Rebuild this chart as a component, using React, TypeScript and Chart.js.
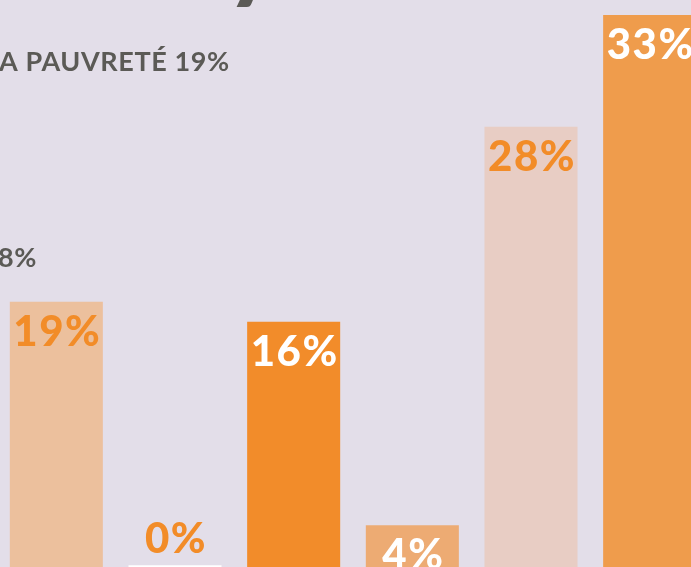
import React, { useEffect, useRef } from "react";
import { Chart, registerables } from "chart.js";

Chart.register(...registerables);

// Categories (names not visible in the crop)
const categories = ["A", "B", "C", "D", "E", "F"];
// Percent labels printed on the bars
const percentLabels = [19, 0, 16, 4, 28, 33];
// Bar heights as drawn in the infographic (not to scale with the labels), in axis units
const barHeights = [15.9, 0.1, 14.7, 2.5, 26.4, 33.1];
const barColors = ["#ecc09d", "#ffffff", "#f28c2a", "#edab73", "#e8cdc4", "#ef9c4c"];
const labelColors = ["#f28c28", "#f28c28", "#ffffff", "#ffffff", "#f28c28", "#ffffff"];
// Annotation texts (cropped in the reference)
const noteTop = "A PAUVRETÉ 19%";
const noteMid = "8%";
const titleFragment = "y";

const BG = "#e3dee9";
const GRAY = "#5b5a56";

export default function App() {
  const ref = useRef<HTMLCanvasElement | null>(null);

  useEffect(() => {
    document.body.style.margin = "0";
    const canvas = ref.current;
    if (!canvas) return;

    const labelPlugin = {
      id: "labels",
      afterDatasetsDraw(chart: any) {
        const ctx = chart.ctx;
        const meta = chart.getDatasetMeta(0);
        ctx.save();
        ctx.font = "900 42px Lato";
        (ctx as any).letterSpacing = "1.5px";
        ctx.textAlign = "center";
        ctx.textBaseline = "alphabetic";
        meta.data.forEach((bar: any, i: number) => {
          const h = bar.base - bar.y;
          ctx.fillStyle = labelColors[i];
          const txt = percentLabels[i] + "%";
          if (h < 20) {
            ctx.fillText(txt, bar.x + 1, bar.y - 12);
          } else {
            ctx.fillText(txt, bar.x + 1, bar.y + 44);
          }
        });
        // annotations
        ctx.fillStyle = GRAY;
        ctx.textAlign = "left";
        (ctx as any).letterSpacing = "0.6px";
        ctx.font = "bold 27px Lato";
        ctx.fillText(noteTop, 2, 71);
        ctx.fillText(noteMid, 1, 267);
        (ctx as any).letterSpacing = "0px";
        ctx.font = "bold 110px Lato";
        ctx.fillText(titleFragment, 227, -11);
        ctx.restore();
      },
    };

    const chart = new Chart(canvas, {
      type: "bar",
      data: {
        labels: categories,
        datasets: [
          {
            data: barHeights,
            backgroundColor: barColors,
            borderWidth: 0,
            categoryPercentage: 1,
            barPercentage: 0.784,
          },
        ],
      },
      options: {
        animation: false,
        responsive: false,
        devicePixelRatio: 1,
        layout: { padding: 0 },
        plugins: {
          legend: { display: false },
          tooltip: { enabled: false },
        },
        scales: {
          x: { display: false },
          y: { display: false, min: 0, max: 34 },
        },
      },
      plugins: [labelPlugin],
    });
    return () => chart.destroy();
  }, []);

  return (
    <div
      style={{
        position: "relative",
        width: 691,
        height: 567,
        overflow: "hidden",
        background: BG,
      }}
    >
      <canvas
        ref={ref}
        width={712}
        height={567}
        style={{ position: "absolute", left: -3, top: 0, width: 712, height: 567 }}
      />
    </div>
  );
}
